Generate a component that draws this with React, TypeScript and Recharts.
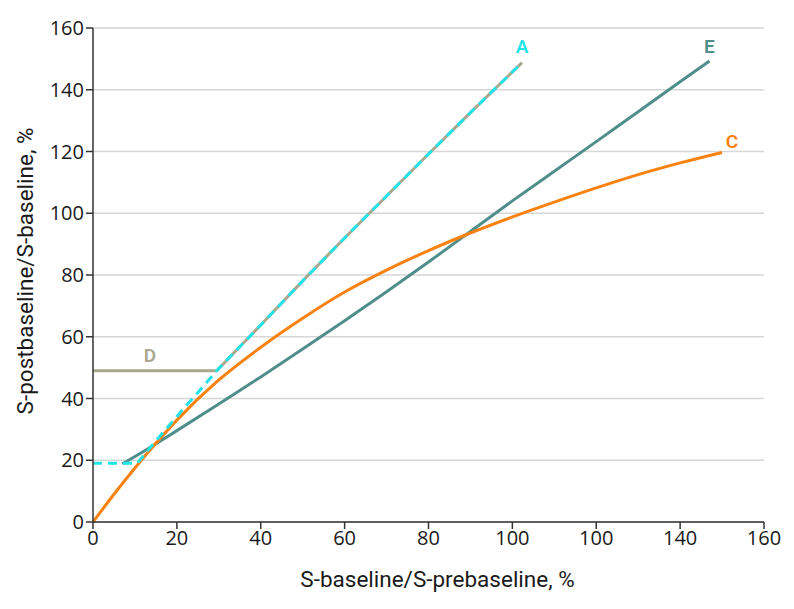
import React from 'react';
import {
  LineChart,
  Line,
  XAxis,
  YAxis,
  CartesianGrid,
  ReferenceDot,
  Label,
} from 'recharts';

// values
const curveA = [
  { x: 0, y: 19 },
  { x: 10.5, y: 19 },
  { x: 15, y: 26.3 },
  { x: 20, y: 34.2 },
  { x: 25, y: 41.9 },
  { x: 29.5, y: 49 },
  { x: 40, y: 63.8 },
  { x: 50, y: 78.1 },
  { x: 60, y: 92 },
  { x: 70, y: 105.6 },
  { x: 80, y: 119.2 },
  { x: 90, y: 132.6 },
  { x: 102.3, y: 148.8 },
];

const curveD = [
  { x: 0, y: 49 },
  { x: 29.5, y: 49 },
  { x: 40, y: 63.8 },
  { x: 50, y: 78.1 },
  { x: 60, y: 92 },
  { x: 70, y: 105.6 },
  { x: 80, y: 119.2 },
  { x: 90, y: 132.6 },
  { x: 102.3, y: 148.8 },
];

const curveC = [
  { x: 0, y: 0 },
  { x: 5, y: 9 },
  { x: 10, y: 17.5 },
  { x: 15, y: 25.5 },
  { x: 20, y: 33 },
  { x: 30, y: 46 },
  { x: 40, y: 56.6 },
  { x: 50, y: 66 },
  { x: 60, y: 74.5 },
  { x: 70, y: 81.6 },
  { x: 80, y: 87.9 },
  { x: 90, y: 93.6 },
  { x: 100, y: 98.8 },
  { x: 110, y: 103.6 },
  { x: 120, y: 108.2 },
  { x: 130, y: 112.5 },
  { x: 140, y: 116.3 },
  { x: 150, y: 119.7 },
];

const curveE = [
  { x: 7, y: 18.8 },
  { x: 10, y: 21.2 },
  { x: 20, y: 29.6 },
  { x: 30, y: 38.2 },
  { x: 40, y: 47 },
  { x: 50, y: 56 },
  { x: 60, y: 65.2 },
  { x: 70, y: 74.6 },
  { x: 80, y: 84.2 },
  { x: 90, y: 94.1 },
  { x: 100, y: 104 },
  { x: 110, y: 113.6 },
  { x: 120, y: 123.2 },
  { x: 130, y: 132.9 },
  { x: 140, y: 142.6 },
  { x: 147, y: 149.3 },
];

const labelD = { x: 13.6, y: 49 };

const xTicks = [0, 20, 40, 60, 80, 100, 120, 140, 160];
// the source figure prints "100" twice on the x axis
const xTickLabels = ['0', '20', '40', '60', '80', '100', '100', '140', '160'];
const yTicks = [0, 20, 40, 60, 80, 100, 120, 140, 160];

const TICK_FONT = '"Open Sans", "Noto Sans", sans-serif';
const TITLE_FONT = 'Roboto, "Noto Sans", sans-serif';
const CYAN = '#22E3E8';
const TEAL = '#4F8E8B';
const ORANGE = '#F8820F';
const OLIVE = '#A9A88F';

const seriesLabel = (text: string, color: string, dx: number, dy: number) => (props: any) => {
  const vb = props.viewBox || {};
  return (
    <text
      x={vb.x + dx}
      y={vb.y + dy}
      textAnchor="middle"
      dominantBaseline="central"
      fill={color}
      fontSize={19}
      fontWeight={600}
      fontFamily={TITLE_FONT}
    >
      {text}
    </text>
  );
};

const App: React.FC = () => {
  const last = (arr: { x: number; y: number }[]) => arr[arr.length - 1];
  const endA = last(curveA);
  const endC = last(curveC);
  const endE = last(curveE);

  return (
    <LineChart width={778} height={593} margin={{ top: 20, right: 22, bottom: 0, left: 0 }}>
      <CartesianGrid vertical={false} stroke="#d6d6d6" strokeWidth={1.5} />
      <XAxis
        type="number"
        dataKey="x"
        domain={[0, 160]}
        ticks={xTicks}
        tickFormatter={(v: number) => xTickLabels[xTicks.indexOf(v)]}
        height={79}
        stroke="#333"
        strokeWidth={1.5}
        tickSize={7}
        tick={{ fill: '#1a1a1a', fontSize: 20, fontFamily: TICK_FONT }}
        allowDuplicatedCategory
      >
        <Label
          content={(p: any) => {
            const vb = p.viewBox || {};
            return (
              <text
                x={vb.x + vb.width / 2 + 9}
                y={vb.y + 65}
                textAnchor="middle"
                fill="#1a1a1a"
                fontSize={22.5}
                fontFamily={TITLE_FONT}
              >
                S-baseline/S-prebaseline, %
              </text>
            );
          }}
        />
      </XAxis>
      <YAxis
        type="number"
        domain={[0, 160]}
        ticks={yTicks}
        width={85}
        stroke="#333"
        strokeWidth={1.5}
        tickSize={7}
        tick={{ fill: '#1a1a1a', fontSize: 20, fontFamily: TICK_FONT }}
      >
        <Label
          content={(p: any) => {
            const vb = p.viewBox || {};
            const cx = 17;
            const cy = vb.y + vb.height / 2 - 4;
            return (
              <text
                x={cx}
                y={cy}
                transform={`rotate(-90, ${cx}, ${cy})`}
                textAnchor="middle"
                dominantBaseline="central"
                fill="#1a1a1a"
                fontSize={22.5}
                fontFamily={TITLE_FONT}
              >
                S-postbaseline/S-baseline, %
              </text>
            );
          }}
        />
      </YAxis>
      <Line
        data={curveE}
        dataKey="y"
        type="monotone"
        stroke={TEAL}
        strokeWidth={3}
        dot={false}
        isAnimationActive={false}
      />
      <Line
        data={curveC}
        dataKey="y"
        type="monotone"
        stroke={ORANGE}
        strokeWidth={3}
        dot={false}
        isAnimationActive={false}
      />
      <Line
        data={curveD}
        dataKey="y"
        type="linear"
        stroke={OLIVE}
        strokeWidth={3}
        dot={false}
        isAnimationActive={false}
      />
      <Line
        data={curveA}
        dataKey="y"
        type="linear"
        stroke={CYAN}
        strokeWidth={3}
        strokeDasharray="9 6"
        dot={false}
        isAnimationActive={false}
      />
      <ReferenceDot x={endA.x} y={endA.y} r={0} fill="none" stroke="none" label={seriesLabel('A', CYAN, 0, -16)} />
      <ReferenceDot x={endE.x} y={endE.y} r={0} fill="none" stroke="none" label={seriesLabel('E', TEAL, 0, -15)} />
      <ReferenceDot x={endC.x} y={endC.y} r={0} fill="none" stroke="none" label={seriesLabel('C', ORANGE, 10, -11)} />
      <ReferenceDot x={labelD.x} y={labelD.y} r={0} fill="none" stroke="none" label={seriesLabel('D', OLIVE, 0, -15)} />
    </LineChart>
  );
};

export default App;
